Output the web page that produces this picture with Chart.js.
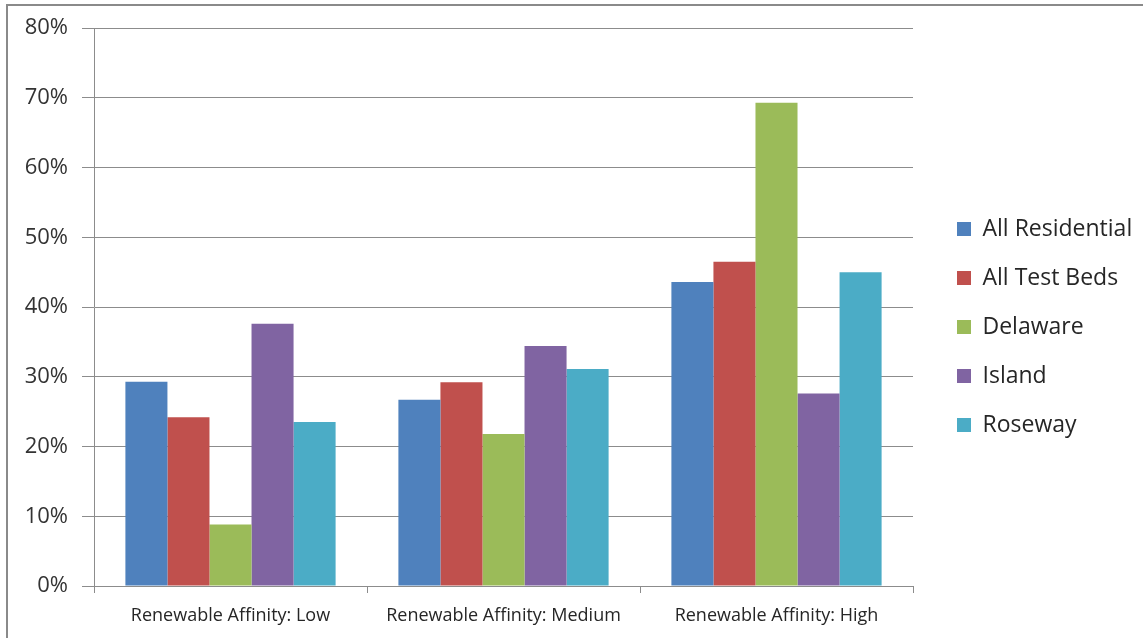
<!DOCTYPE html>
<html>
<head>
<meta charset="utf-8">
<script src="https://cdn.jsdelivr.net/npm/chart.js@4/dist/chart.umd.min.js"></script>
<style>
  html, body { margin: 0; padding: 0; background: #ffffff; }
  #wrap { position: relative; width: 1143px; height: 638px; }
</style>
</head>
<body>
<div id="wrap"><canvas id="chart" width="1143" height="638"></canvas></div>
<script>
// Share of respondents by renewable affinity level
const categories = ['Renewable Affinity: Low', 'Renewable Affinity: Medium', 'Renewable Affinity: High'];
const seriesNames = ['All Residential', 'All Test Beds', 'Delaware', 'Island', 'Roseway'];
const allResidential = [29.3, 26.7, 43.6];
const allTestBeds    = [24.2, 29.2, 46.5];
const delaware       = [8.8, 21.8, 69.3];
const island         = [37.6, 34.4, 27.6];
const roseway        = [23.5, 31.1, 45.0];
const yTicks = [0, 10, 20, 30, 40, 50, 60, 70, 80];

const seriesValues = [allResidential, allTestBeds, delaware, island, roseway];
const seriesColors = ['#4F81BD', '#C0504D', '#9BBB59', '#8064A2', '#4BACC6'];

const W = 1143;
const plotLeft = 94, plotRight = 913, plotTop = 28, plotBottom = 586;
const legendFont = { family: '"Open Sans", sans-serif', size: 23 };
const legendPad = 26, legendBox = 14;

// width of the widest legend entry, so the plot can end where the legend starts
const mctx = document.createElement('canvas').getContext('2d');
mctx.font = legendFont.size + 'px ' + legendFont.family;
const widest = Math.max(...seriesNames.map(n => mctx.measureText(n).width));
const legendWidth = legendPad + legendBox + legendFont.size / 2 + widest + 10;
const rightPad = Math.max(0, W - plotRight - legendWidth);

// outer frame of the chart
const framePlugin = {
  id: 'frame',
  beforeDraw(chart) {
    const c = chart.ctx;
    c.save();
    c.fillStyle = '#ffffff';
    c.fillRect(0, 0, chart.width, chart.height);
    c.strokeStyle = '#8a8a8a';
    c.lineWidth = 2;
    c.beginPath();
    c.moveTo(7, chart.height);
    c.lineTo(7, 5);
    c.lineTo(chart.width, 5);
    c.stroke();
    c.restore();
  }
};

// nudge the legend block into place beside the plot
const legendPlacement = {
  id: 'legendPlacement',
  afterLayout(chart) {
    const lg = chart.legend;
    const dx = 957 - (lg.left + legendPad);
    lg.left += dx; lg.right += dx;
    lg.top -= 6; lg.bottom -= 6;
  }
};

new Chart(document.getElementById('chart'), {
  type: 'bar',
  data: {
    labels: categories,
    datasets: seriesNames.map((name, i) => ({
      label: name,
      data: seriesValues[i],
      backgroundColor: seriesColors[i],
      borderWidth: 0,
      categoryPercentage: 0.77,
      barPercentage: 1.0
    }))
  },
  options: {
    responsive: false,
    animation: false,
    layout: { padding: { top: plotTop, left: 0, right: rightPad, bottom: 0 } },
    plugins: {
      title: { display: false },
      tooltip: { enabled: false },
      legend: {
        position: 'right',
        align: 'center',
        labels: {
          boxWidth: legendBox,
          boxHeight: legendBox,
          padding: legendPad,
          color: '#262626',
          font: legendFont
        }
      }
    },
    scales: {
      x: {
        grid: {
          display: true,
          drawOnChartArea: false,
          drawTicks: true,
          tickLength: 7,
          color: '#8c8c8c',
          offset: true
        },
        border: { display: true, color: '#8c8c8c', width: 1 },
        ticks: {
          color: '#262626',
          padding: 12,
          maxRotation: 0,
          autoSkip: false,
          font: { family: '"Open Sans", sans-serif', size: 18 }
        },
        afterFit(scale) { scale.height = 638 - plotBottom; }
      },
      y: {
        min: 0,
        max: 80,
        afterBuildTicks(scale) { scale.ticks = yTicks.map(v => ({ value: v })); },
        grid: {
          color: '#8c8c8c',
          lineWidth: 1,
          drawTicks: true,
          tickLength: 12
        },
        border: { display: true, color: '#8c8c8c', width: 1 },
        ticks: {
          color: '#333333',
          padding: 14,
          font: { family: '"Open Sans", sans-serif', size: 22 },
          callback: v => v + '%'
        },
        afterFit(scale) { scale.width = plotLeft; }
      }
    }
  },
  plugins: [framePlugin, legendPlacement]
});
</script>
</body>
</html>
